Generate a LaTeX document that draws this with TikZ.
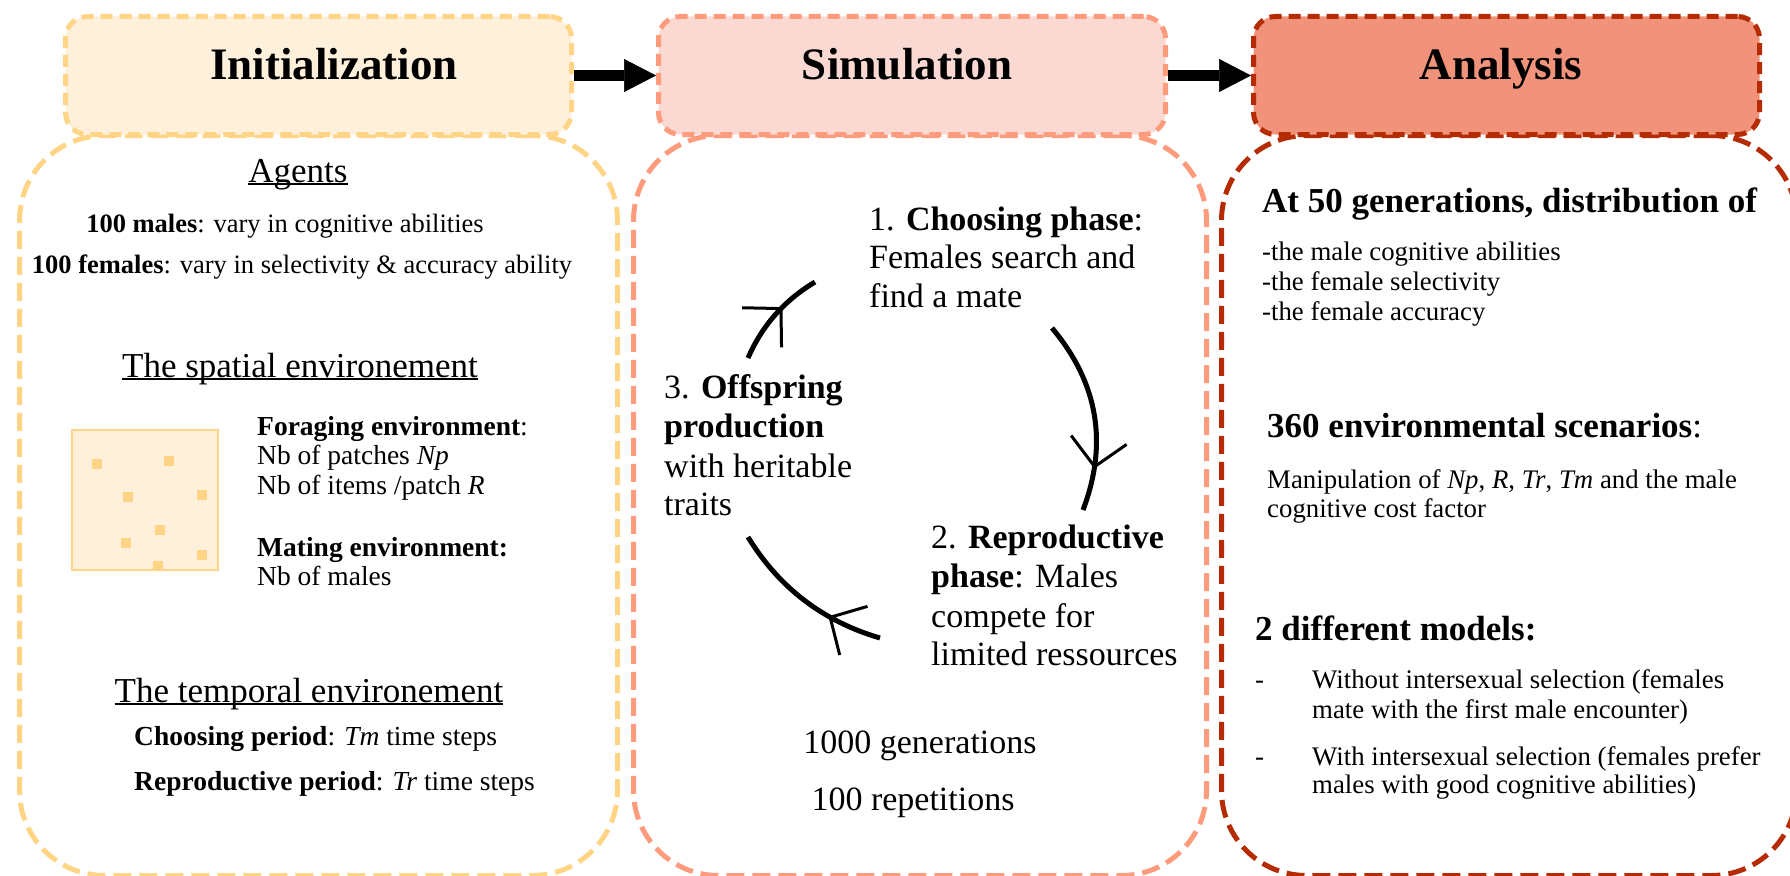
\documentclass[tikz,border=0pt]{standalone}
\usepackage{fontspec}
\setmainfont{Liberation Serif}
\usetikzlibrary{arrows.meta,decorations.markings}
\definecolor{initstroke}{HTML}{FFD485}
\definecolor{initfill}{HTML}{FEF0DA}
\definecolor{simstroke}{HTML}{FF9B7D}
\definecolor{simfill}{HTML}{F9D9D2}
\definecolor{anastroke}{HTML}{B42B04}
\definecolor{anafill}{HTML}{F0937A}
\newcommand\ulin[1]{\setbox0\hbox{#1}\rlap{\rule[-3pt]{\wd0}{1.6pt}}\box0}
\newcommand\FHead{\fontsize{45}{54}\selectfont\bfseries}
\newcommand\FSec{\fontsize{35}{42}\selectfont}
\newcommand\FMid{\fontsize{34}{40}\selectfont}
\newcommand\FBody{\fontsize{26.8}{30}\selectfont}
\newcommand\FLeft{\fontsize{26.5}{30}\selectfont}
\newcommand\FEnv{\fontsize{27.5}{32}\selectfont}
\begin{document}
\begin{tikzpicture}[x=1pt,y=-1pt,
  headbox/.style={line width=5pt, dash pattern=on 12pt off 7pt, rounded corners=22pt,
    minimum width=506pt, minimum height=118pt, inner sep=0pt, anchor=north west},
  bodybox/.style={line width=5pt, dash pattern=on 18pt off 8pt, rounded corners=85pt,
    minimum height=740pt, inner sep=0pt, anchor=north west, fill=white},
  txt/.style={inner sep=0pt, anchor=base west},
  ctxt/.style={inner sep=0pt, anchor=base},
  flowarrow/.style={line width=11pt, -{Triangle[length=32pt,width=33pt,line width=0.5pt]}},
  cyc/.style={line width=5pt},
  dot/.style={fill=initstroke, minimum size=10pt, inner sep=0pt},
  barb/.tip={Straight Barb[length=27pt,width=56pt,line width=3pt]}
]
\useasboundingbox (0,0) rectangle (1790,875);
\clip (0,0) rectangle (1790,875);

% body boxes
\node[bodybox, draw=initstroke, minimum width=598pt] (initbody) at (17,133) {};
\node[bodybox, draw=simstroke, minimum width=573pt] (simbody) at (631,133) {};
\node[bodybox, draw=anastroke, minimum width=575pt] (anabody) at (1219,133) {};

% header boxes
\node[headbox, draw=initstroke, fill=initfill] (inithead) at (63,14) {};
\node[headbox, draw=simstroke, fill=simfill, minimum width=507pt] (simhead) at (656,14) {};
\node[headbox, draw=anastroke, fill=anafill] (anahead) at (1251,14) {};

\node[ctxt, font=\FHead] (inittitle) at (334,80) {Initialization};
\node[ctxt, font=\FHead] (simtitle) at (907,80) {Simulation};
\node[ctxt, font=\FHead] (anatitle) at (1501,80) {Analysis};

\draw[flowarrow] (inithead.east) -- (simhead.west);
\draw[flowarrow] (simhead.east) -- (anahead.west);

% ---- Initialization content
\node[ctxt, font=\FSec] (agents) at (298,182) {\ulin{Agents}};
\node[ctxt, font=\FLeft] (males) at (285,232) {\textbf{100 males}: vary in cognitive abilities};
\node[ctxt, font=\FLeft] (females) at (302,273) {\textbf{100 females}: vary in selectivity \& accuracy ability};
\node[ctxt, font=\FSec] (spatial) at (300,377) {\ulin{The spatial environement}};

\node[draw=initstroke, fill=initfill, line width=2pt, minimum width=146pt, minimum height=140pt,
  inner sep=0pt, anchor=north west] (envsq) at (71,429) {};
\foreach \px/\py [count=\i] in {97/464, 169/461, 128/497, 202/495, 160/530, 126/543, 202/555, 158/566}
  \node[dot] (dot\i) at (\px,\py) {};

\node[txt, font=\FEnv] (forag) at (257,435) {\textbf{Foraging environment}:};
\node[txt, font=\FEnv] (npatch) at (257,464) {Nb of patches \textit{Np}};
\node[txt, font=\FEnv] (nitems) at (257,494) {Nb of items /patch \textit{R}};
\node[txt, font=\FEnv] (mating) at (257,556) {\textbf{Mating environment:}};
\node[txt, font=\FEnv] (nmales) at (257,585) {Nb of males};

\node[ctxt, font=\FSec] (temporal) at (309,702) {\ulin{The temporal environement}};
\node[txt, font=\FEnv] (chper) at (134,745) {\textbf{Choosing period}: \textit{Tm} time steps};
\node[txt, font=\FEnv] (repper) at (134,790) {\textbf{Reproductive period}: \textit{Tr} time steps};

% ---- Simulation content
\node[txt, font=\FMid] (ch1) at (869,230) {1. \textbf{Choosing phase}:};
\node[txt, font=\FMid] (ch2) at (869,268) {Females search and};
\node[txt, font=\FMid] (ch3) at (869,307) {find a mate};
\node[txt, font=\FMid] (of1) at (664,398) {3. \textbf{Offspring}};
\node[txt, font=\FMid] (of2) at (664,437) {\textbf{production}};
\node[txt, font=\FMid] (of3) at (664,477) {with heritable};
\node[txt, font=\FMid] (of4) at (664,515) {traits};
\node[txt, font=\FMid] (rp1) at (931,548) {2. \textbf{Reproductive}};
\node[txt, font=\FMid] (rp2) at (931,587) {\textbf{phase}: Males};
\node[txt, font=\FMid] (rp3) at (931,627) {compete for};
\node[txt, font=\FMid] (rp4) at (931,665) {limited ressources};
\node[ctxt, font=\FMid] (gens) at (920,753) {1000 generations};
\node[ctxt, font=\FMid] (reps) at (913,810) {100 repetitions};

\coordinate (a1s) at (748,358); \coordinate (a1e) at (815,282);
\coordinate (a2s) at (1052,328); \coordinate (a2e) at (1083,510);
\coordinate (a3s) at (880,638); \coordinate (a3e) at (748,537);
\draw[cyc, postaction={decorate}, decoration={markings, mark=at position 0.6 with {\arrow{barb}}}]
  (a1s) .. controls (762,325.7) and (784.3,300.3) .. (a1e);
\draw[cyc, postaction={decorate}, decoration={markings, mark=at position 0.78 with {\arrow{barb}}}]
  (a2s) .. controls (1098,382.7) and (1108.3,443.3) .. (a2e);
\draw[cyc, postaction={decorate}, decoration={markings, mark=at position 0.33 with {\arrow{barb}}}]
  (a3s) .. controls (823,621.3) and (779,587.7) .. (a3e);

% ---- Analysis content
\node[txt, font=\FSec] (at50) at (1262,212) {\textbf{At 50 generations, distribution of}};
\node[txt, font=\FBody] (d1) at (1262,260) {-the male cognitive abilities};
\node[txt, font=\FBody] (d2) at (1262,290) {-the female selectivity};
\node[txt, font=\FBody] (d3) at (1262,320) {-the female accuracy};
\node[txt, font=\FSec] (scen) at (1267,437) {\textbf{360 environmental scenarios}:};
\node[txt, font=\FBody] (man1) at (1267,488) {Manipulation of \textit{Np}, \textit{R}, \textit{Tr}, \textit{Tm} and the male};
\node[txt, font=\FBody] (man2) at (1267,517) {cognitive cost factor};
\node[txt, font=\FSec] (models) at (1255,640) {\textbf{2 different models:}};
\node[txt, font=\FBody] (dash1) at (1255,688) {-};
\node[txt, font=\FBody] (m1a) at (1312,688) {Without intersexual selection (females};
\node[txt, font=\FBody] (m1b) at (1312,718) {mate with the first male encounter)};
\node[txt, font=\FBody] (dash2) at (1255,765) {-};
\node[txt, font=\FBody] (m2a) at (1312,765) {With intersexual selection (females prefer};
\node[txt, font=\FBody] (m2b) at (1312,793) {males with good cognitive abilities)};
\end{tikzpicture}
\end{document}
